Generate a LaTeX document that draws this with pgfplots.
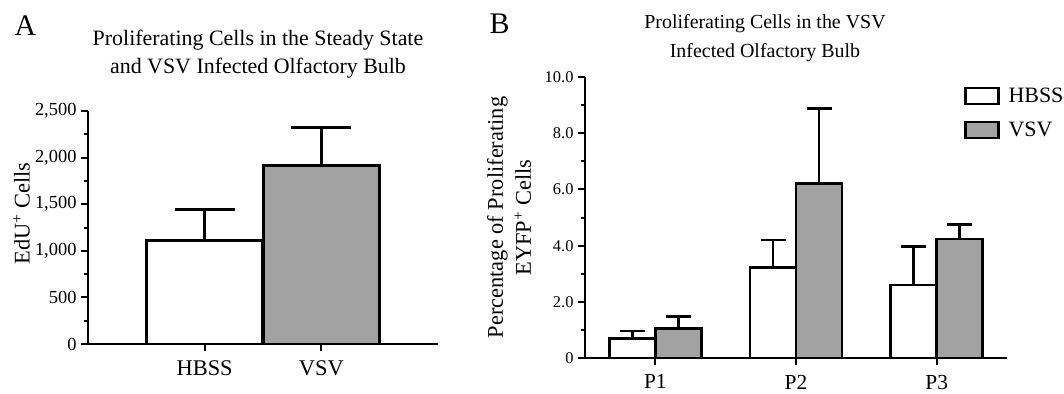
\documentclass[border=0pt]{standalone}
\usepackage{pgfplots}
\pgfplotsset{compat=1.18}
\usepackage{fontspec}
\setmainfont{Liberation Serif}
\definecolor{bargray}{RGB}{162,162,162}
\newcommand{\fs}[1]{\fontsize{#1}{#1}\selectfont}
\begin{document}
\begin{tikzpicture}
\useasboundingbox (0bp,-394bp) rectangle (1064bp,0bp);
\pgfplotsset{
  panel/.style={
    scale only axis,
    axis x line*=bottom, axis y line*=left,
    axis line style={line width=2.2bp, black},
    tick align=outside,
    major tick length=7bp, minor tick length=4bp,
    every tick/.style={black, line width=2bp},
    every minor tick/.style={black, line width=2bp},
    yticklabel style={xshift=-1bp},
    xticklabel style={yshift=-6bp},
    ybar,
    error bars/error bar style={line width=2.8bp, black},
  },
  hbss/.style={fill=white, draw=black, line width=2.8bp},
  vsv/.style={fill=bargray, draw=black, line width=2.8bp},
}
% Letters and titles
\node[anchor=base west, font=\fs{30}] at (11bp,-35bp) {A};
\node[anchor=base west, font=\fs{30}] at (486bp,-33bp) {B};
\node[anchor=base, font=\fs{22}] at (258bp,-45bp) {Proliferating Cells in the Steady State};
\node[anchor=base, font=\fs{22}] at (258bp,-73bp) {and VSV Infected Olfactory Bulb};
\node[anchor=base, font=\fs{20}] at (765bp,-28bp) {Proliferating Cells in the VSV};
\node[anchor=base, font=\fs{20}] at (765bp,-57bp) {Infected Olfactory Bulb};

% Panel A
\begin{axis}[panel,
  at={(88bp,-344bp)}, anchor=south west,
  width=350bp, height=233bp,
  xmin=0, xmax=3, ymin=0, ymax=2500,
  bar width=116bp,
  xtick={1,2},
  xticklabels={HBSS,VSV},
  xticklabel style={font=\fs{22.5}},
  yticklabel style={font=\fs{18.5}},
  ytick={0,500,1000,1500,2000,2500},
  yticklabels={0,500,{1,000},{1,500},{2,000},{2,500}},
  minor y tick num=1,
  error bars/error mark options={rotate=90, line width=2.8bp, black, mark size=30bp},
  ylabel={EdU\textsuperscript{+} Cells},
  ylabel style={font=\fs{22.5}, at={(axis description cs:-0.19,0.56)}, anchor=center},
]
\addplot[hbss, bar shift=0pt, error bars/.cd, y dir=plus, y explicit]
  coordinates {(1,1108) +- (0,333)};
\addplot[vsv, bar shift=0pt, error bars/.cd, y dir=plus, y explicit]
  coordinates {(2,1913) +- (0,408)};
\end{axis}

% Panel B
\begin{axis}[panel,
  at={(585bp,-358.3bp)}, anchor=south west,
  width=422bp, height=281.6bp,
  xmin=0.5, xmax=3.5, ymin=0, ymax=10,
  bar width=46bp, ybar=0pt,
  error bars/error mark options={rotate=90, line width=2.8bp, black, mark size=12.5bp},
  xtick={1,2,3},
  xticklabels={P1,P2,P3},
  xticklabel style={font=\fs{21.5}},
  yticklabel style={font=\fs{16.5}},
  ytick={0,2,4,6,8,10},
  yticklabels={0,2.0,4.0,6.0,8.0,10.0},
  minor y tick num=1,
  ylabel={Percentage of Proliferating\\EYFP\textsuperscript{+} Cells},
  ylabel style={font=\fontsize{22.5}{28}\selectfont, at={(axis description cs:-0.18,0.5)}, anchor=center, align=center},
  legend image code/.code={\draw[#1, line width=2.8bp] (0bp,-8bp) rectangle (33bp,8bp);},
  legend style={at={(axis description cs:0.89,0.975)}, anchor=north west,
    draw=none, fill=none, font=\fs{22}, row sep=14bp,
    /tikz/every odd column/.append style={column sep=7bp}},
  legend cell align=left,
]
\addplot[hbss, error bars/.cd, y dir=plus, y explicit]
  coordinates {(1,0.71) +- (0,0.26) (2,3.23) +- (0,0.97) (3,2.60) +- (0,1.36)};
\addplot[vsv, error bars/.cd, y dir=plus, y explicit]
  coordinates {(1,1.07) +- (0,0.41) (2,6.21) +- (0,2.67) (3,4.24) +- (0,0.52)};
\legend{HBSS,VSV}
\end{axis}
\end{tikzpicture}
\end{document}
